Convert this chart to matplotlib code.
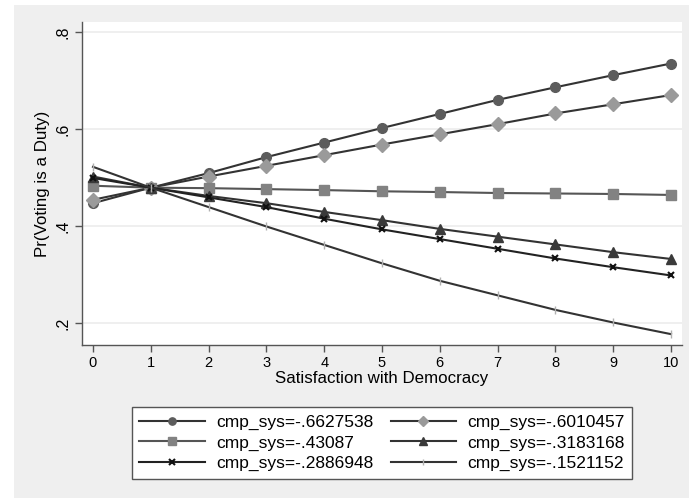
import matplotlib
matplotlib.use("Agg")
import matplotlib.pyplot as plt
from matplotlib.patches import Rectangle

plt.rcParams['font.family'] = ['Liberation Sans', 'DejaVu Sans']

x = list(range(11))
labels = ["cmp_sys=-.6627538", "cmp_sys=-.6010457", "cmp_sys=-.43087",
          "cmp_sys=-.3183168", "cmp_sys=-.2886948", "cmp_sys=-.1521152"]
s1 = [0.447, 0.479, 0.509, 0.542, 0.572, 0.602, 0.631, 0.660, 0.686, 0.711, 0.735]
s2 = [0.454, 0.479, 0.502, 0.524, 0.546, 0.568, 0.589, 0.610, 0.632, 0.651, 0.670]
s3 = [0.483, 0.479, 0.478, 0.476, 0.474, 0.4715, 0.470, 0.468, 0.467, 0.466, 0.464]
s4 = [0.502, 0.479, 0.462, 0.447, 0.429, 0.412, 0.394, 0.378, 0.362, 0.346, 0.332]
s5 = [0.499, 0.479, 0.459, 0.439, 0.415, 0.393, 0.373, 0.353, 0.333, 0.315, 0.298]
s6 = [0.522, 0.479, 0.439, 0.399, 0.361, 0.323, 0.287, 0.257, 0.227, 0.201, 0.177]
yticks = [0.2, 0.4, 0.6, 0.8]
yticklabels = [".2", ".4", ".6", ".8"]

series = [s1, s2, s3, s4, s5, s6]
styles = [
    dict(marker='o', color='#5c5c5c', ms=7, mec='#5c5c5c'),
    dict(marker='D', color='#9a9a9a', ms=7, mec='#9a9a9a'),
    dict(marker='s', color='#828282', ms=7, mec='#828282'),
    dict(marker='^', color='#3a3a3a', ms=7, mec='#3a3a3a'),
    dict(marker='x', color='#111111', ms=5, mec='#111111', mew=1.5),
    dict(marker='|', color='#b0b0b0', ms=6, mec='#b0b0b0', mew=1.0),
]
lcolors = ['#333333', '#333333', '#555555', '#333333', '#222222', '#333333']

fig = plt.figure(figsize=(6.89, 4.98), dpi=100)
fig.patch.set_facecolor('white')
fig.patches.append(Rectangle((14/689, 0), 1 - 14/689, 1 - 5/498,
                             transform=fig.transFigure, facecolor='#efefef',
                             edgecolor='none', zorder=-5))

ax = fig.add_axes([82/689, 1 - 345/498, 600/689, 323/498])
ax.set_facecolor('white')

handles = []
for s, st, lc, lab in zip(series, styles, lcolors, labels):
    h, = ax.plot(x, s, color=lc, lw=1.5, marker=st['marker'],
                 markerfacecolor=st['color'], markeredgecolor=st['mec'],
                 markersize=st['ms'], markeredgewidth=st.get('mew', 1.0),
                 label=lab, zorder=3)
    handles.append(h)

ax.set_xlim(-0.19, 10.19)
ax.set_ylim(0.1546, 0.8206)
ax.set_xticks(x)
ax.set_xticklabels([str(v) for v in x], fontsize=10.5)
ax.set_yticks(yticks)
ax.set_yticklabels(yticklabels, fontsize=11.5, rotation=90, va='center')
ax.grid(axis='y', color='#ececec', lw=1.2, zorder=0)
ax.set_axisbelow(True)
for sp in ['top', 'right']:
    ax.spines[sp].set_visible(False)
for sp in ['left', 'bottom']:
    ax.spines[sp].set_color('#555555')
    ax.spines[sp].set_linewidth(1.0)
ax.tick_params(axis='both', direction='out', length=5, color='#555555', width=1.0, pad=3)
ax.set_ylabel("Pr(Voting is a Duty)", fontsize=12.2, labelpad=4)
ax.set_xlabel("Satisfaction with Democracy", fontsize=12.2, labelpad=1)

order = [0, 2, 4, 1, 3, 5]
leg = fig.legend(handles=[handles[i] for i in order], loc='upper left', ncol=2,
                 bbox_to_anchor=(123/689, 1 - 477/498, (641 - 123)/689, (477 - 398)/498),
                 mode='expand', fontsize=12.5, frameon=True, fancybox=False,
                 handlelength=3.75, handletextpad=0.65, columnspacing=2.0,
                 labelspacing=0.32, borderpad=0.45, framealpha=1.0,
                 markerscale=0.75)
leg.get_frame().set_edgecolor('#555555')
leg.get_frame().set_facecolor('white')
leg.get_frame().set_linewidth(1.0)

fig.savefig("out.png", dpi=100, facecolor=fig.get_facecolor())
